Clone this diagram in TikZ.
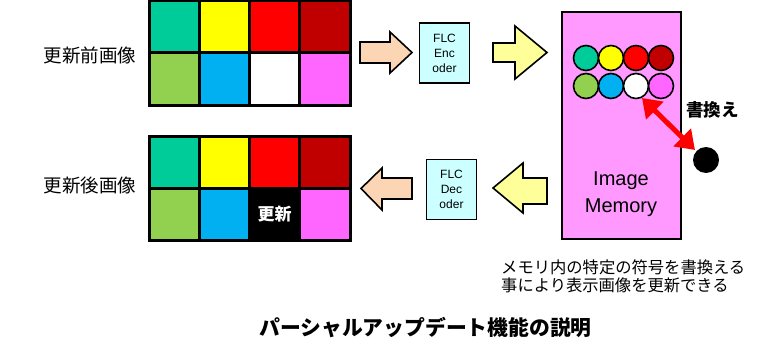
\documentclass[tikz,border=0pt]{standalone}
\usepackage{fontspec}
\setmainfont{Liberation Sans}
\newfontfamily\jp{Noto Sans CJK JP}
\usetikzlibrary{arrows.meta}
\definecolor{cteal}{HTML}{00CC99}
\definecolor{cyel}{HTML}{FFFF00}
\definecolor{cred}{HTML}{FF0000}
\definecolor{cdred}{HTML}{C00000}
\definecolor{cgreen}{HTML}{92D050}
\definecolor{cblue}{HTML}{00B0F0}
\definecolor{cmag}{HTML}{FF66FF}
\definecolor{memfill}{HTML}{FF99FF}
\definecolor{codfill}{HTML}{CCFFFF}
\definecolor{peach}{HTML}{FCD5B4}
\definecolor{lyel}{HTML}{FFFF99}
\begin{document}
\begin{tikzpicture}[x=1pt,y=-1pt,
  cell/.style={draw=black,line width=3pt,minimum width=50.25pt,minimum height=52pt,inner sep=0pt,outer sep=0pt},
  dot/.style={circle,draw=black,line width=1.6pt,minimum size=25pt,inner sep=0pt},
  codbox/.style={draw=black,line width=1.6pt,fill=codfill,minimum width=50pt,minimum height=60pt,align=center,font=\fontsize{12}{15}\selectfont,inner sep=0pt},
  blockarrow/.style={draw=black,line width=1.6pt,line join=miter},
  jlabel/.style={font=\jp\fontsize{18.5}{20}\selectfont,inner sep=0pt}
]
\useasboundingbox (0,0) rectangle (782,353);
% top grid
\foreach \c/\col in {0/cteal,1/cyel,2/cred,3/cdred}{
  \node[cell,fill=\col] (t1\c) at ({149+50.25*\c+25.125},27) {};
}
\foreach \c/\col in {0/cgreen,1/cblue,2/white,3/cmag}{
  \node[cell,fill=\col] (t2\c) at ({149+50.25*\c+25.125},79) {};
}
% bottom grid
\foreach \c/\col in {0/cteal,1/cyel,2/cred,3/cdred}{
  \node[cell,fill=\col] (b1\c) at ({149+50.25*\c+25.125},162) {};
}
\foreach \c/\col in {0/cgreen,1/cblue,3/cmag}{
  \node[cell,fill=\col] (b2\c) at ({149+50.25*\c+25.125},214) {};
}
\node[cell,fill=black,text=white,font=\jp\bfseries\fontsize{17}{17}\selectfont] (b22) at ({149+50.25*2+25.125},214) {更新};
% labels
\node[jlabel] (lbefore) at (90,55) {更新前画像};
\node[jlabel] (lafter) at (90,186) {更新後画像};
% arrows top
\draw[blockarrow,fill=peach] (360,42) -- (390,42) -- (390,32) -- (412,52.5) -- (390,73) -- (390,63) -- (360,63) -- cycle;
\node[codbox] (enc) at (444.5,53) {FLC\\Enc\\oder};
\draw[blockarrow,fill=lyel] (493,43) -- (515,43) -- (515,26) -- (547,52.5) -- (515,79) -- (515,62) -- (493,62) -- cycle;
% arrows bottom
\draw[blockarrow,fill=lyel] (547,178) -- (523,178) -- (523,163) -- (493,188) -- (523,213) -- (523,204) -- (547,204) -- cycle;
\node[codbox] (dec) at (451.5,189.5) {FLC\\Dec\\oder};
\draw[blockarrow,fill=peach] (412,178) -- (382,178) -- (382,168) -- (361,188.5) -- (382,210) -- (382,199) -- (412,199) -- cycle;
% memory
\node[draw=black,line width=1.6pt,fill=memfill,minimum width=119pt,minimum height=227pt,inner sep=0pt] (mem) at (621.5,125.5) {};
\node[align=center,font=\fontsize{20}{27}\selectfont] (memtxt) at (621,194) {Image\\Memory};
\foreach \c/\col [count=\i from 0] in {cteal,cyel,cred,cdred}{
  \node[dot,fill=\col] (m1\i) at ({586+25*\i},58) {};
}
\foreach \c/\col [count=\i from 0] in {cgreen,cblue,white,cmag}{
  \node[dot,fill=\col] (m2\i) at ({586+25*\i},86) {};
}
\node[circle,fill=black,minimum size=26pt,inner sep=0pt] (newdot) at (706,160) {};
\coordinate (ra) at (642,98);
\coordinate (rb) at (695,150);
\draw[cred,line width=5pt,{Triangle[length=18pt,width=24pt]}-{Triangle[length=18pt,width=24pt]}] (ra) -- (rb);
\node[font=\jp\bfseries\fontsize{17.5}{17.5}\selectfont,inner sep=0pt] (kakikae) at (712.5,110) {書換え};
% description
\node[anchor=west,align=left,font=\jp\fontsize{16.3}{17.5}\selectfont,inner sep=0pt] (desc) at (501,276.5) {メモリ内の特定の符号を書換える\\事により表示画像を更新できる};
\node[font=\jp\bfseries\fontsize{20.8}{20.8}\selectfont,inner sep=0pt] (title) at (425.5,328) {パーシャルアップデート機能の説明};
\end{tikzpicture}
\end{document}
